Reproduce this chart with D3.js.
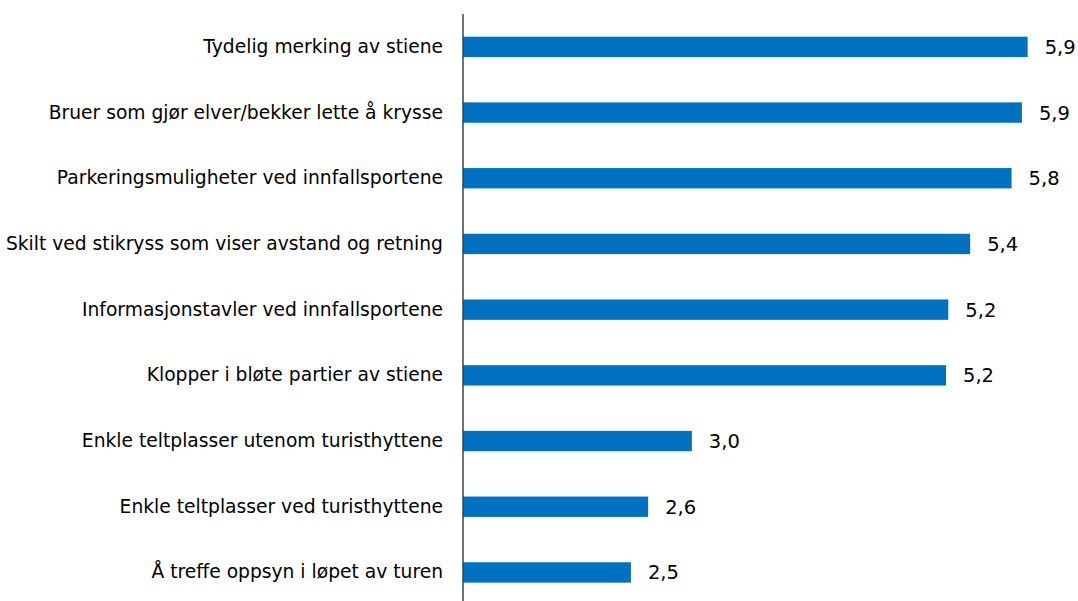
<!DOCTYPE html>
<html>
<head>
<meta charset="utf-8">
<script src="https://cdn.jsdelivr.net/npm/d3@7"></script>
<style>
  body { margin: 0; background: #fff; }
  svg { display: block; font-family: "DejaVu Sans", sans-serif; }
</style>
</head>
<body>
<div id="chart"></div>
<script>
// categories, top to bottom
const categories = [
  "Tydelig merking av stiene",
  "Bruer som gjør elver/bekker lette å krysse",
  "Parkeringsmuligheter ved innfallsportene",
  "Skilt ved stikryss som viser avstand og retning",
  "Informasjonstavler ved innfallsportene",
  "Klopper i bløte partier av stiene",
  "Enkle teltplasser utenom turisthyttene",
  "Enkle teltplasser ved turisthyttene",
  "Å treffe oppsyn i løpet av turen"
];
const values = [5.91, 5.86, 5.77, 5.41, 5.22, 5.20, 2.99, 2.61, 2.46];
const xDomain = [1, 7];

const W = 1078, H = 601;
const margin = {top: 14, right: 0, bottom: 0, left: 463};

const svg = d3.select("#chart")
  .append("svg")
    .attr("width", W)
    .attr("height", H);

const x = d3.scaleLinear()
  .domain(xDomain)
  .range([margin.left, margin.left + 6 * 115]);

const y = d3.scaleBand()
  .domain(categories)
  .range([margin.top, margin.top + 9 * 65.7])
  .paddingInner(0.69)
  .paddingOuter(0.345);

const fmt = v => d3.format(".1f")(v).replace(".", ",");

// bars
svg.selectAll("rect.bar")
  .data(values)
  .join("rect")
    .attr("class", "bar")
    .attr("x", x(xDomain[0]))
    .attr("y", (d, i) => y(categories[i]))
    .attr("width", d => x(d) - x(xDomain[0]))
    .attr("height", y.bandwidth())
    .style("fill", "#0070c0");

// value labels
svg.selectAll("text.val")
  .data(values)
  .join("text")
    .attr("class", "val")
    .attr("x", d => x(d) + 17)
    .attr("y", (d, i) => y(categories[i]) + y.bandwidth() / 2)
    .attr("dy", "0.36em")
    .style("font-size", "19.5px")
    .style("fill", "#000")
    .text(fmt);

// category axis
const yAxis = svg.append("g")
  .attr("transform", `translate(${margin.left},0)`)
  .call(d3.axisLeft(y).tickSize(0).tickPadding(20));

yAxis.select(".domain")
  .attr("d", `M0,${margin.top}V${H}`)
  .style("stroke", "#404040")
  .style("stroke-width", 1.5);

yAxis.selectAll(".tick text")
  .style("font-family", "\"DejaVu Sans\", sans-serif")
  .style("font-size", "18.7px")
  .style("fill", "#000");
</script>
</body>
</html>
